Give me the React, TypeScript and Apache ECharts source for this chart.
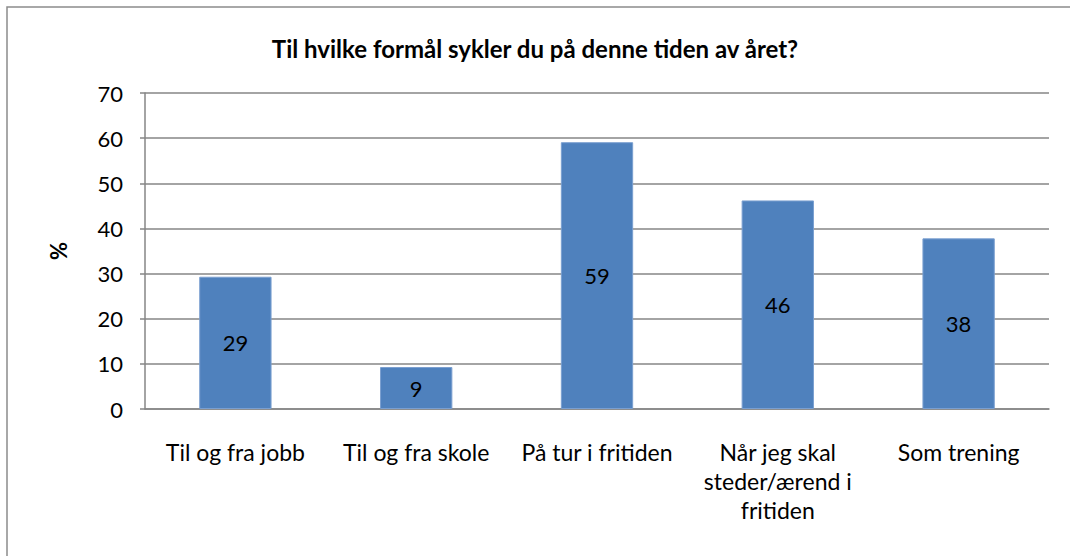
import React, { useEffect, useRef } from "react";
import * as echarts from "echarts";

const categories = [
  "Til og fra jobb",
  "Til og fra skole",
  "På tur i fritiden",
  "Når jeg skal\nsteder/ærend i\nfritiden",
  "Som trening",
];
const values = [29.3, 9.3, 59.1, 46.2, 37.8];
const titleText = "Til hvilke formål sykler du på denne tiden av året?";
const yAxisName = "%";

const FONT = "Lato, 'Open Sans', sans-serif";

export default function App() {
  const ref = useRef<HTMLDivElement>(null);
  useEffect(() => {
    document.body.style.margin = "0";
    const chart = echarts.init(ref.current!, null, { renderer: "svg" });
    chart.setOption({
      animation: false,
      backgroundColor: "#ffffff",
      textStyle: { fontFamily: FONT },
      title: {
        text: titleText,
        left: "center",
        top: 31,
        textStyle: { fontFamily: FONT, fontSize: 24, fontWeight: "bold", color: "#000" },
      },
      graphic: [
        {
          type: "polyline",
          shape: { points: [[7, 600], [7, 7], [1100, 7]] },
          style: { fill: "none", stroke: "#8c8c8c", lineWidth: 1.5 },
          silent: true,
          z: -1,
        },
      ],
      grid: { left: 145, right: 21, top: 93, bottom: 147, containLabel: false },
      xAxis: {
        type: "category",
        data: categories,
        axisLine: { show: true, lineStyle: { color: "#868686", width: 1.5 } },
        axisTick: { show: false },
        axisLabel: {
          color: "#000",
          fontSize: 23,
          fontFamily: FONT,
          margin: 28,
          lineHeight: 29,
          interval: 0,
        },
      },
      yAxis: {
        type: "value",
        min: 0,
        max: 70,
        interval: 10,
        name: yAxisName,
        nameLocation: "middle",
        nameGap: 76,
        nameRotate: 90,
        nameTextStyle: { fontFamily: FONT, fontSize: 22, fontWeight: "bold", color: "#000" },
        axisLine: { show: true, lineStyle: { color: "#868686", width: 1.5 } },
        axisTick: { show: true, length: 5, lineStyle: { color: "#868686", width: 1.5 } },
        axisLabel: { color: "#000", fontSize: 22, fontFamily: FONT, margin: 22 },
        splitLine: { show: true, lineStyle: { color: "#868686", width: 1.5 } },
      },
      series: [
        {
          type: "bar",
          data: values,
          barWidth: "40%",
          itemStyle: { color: "#4F81BD", borderColor: "#7a9fd0", borderWidth: 1 },
          label: {
            show: true,
            position: "inside",
            color: "#000",
            fontSize: 22,
            fontFamily: FONT,
            formatter: (p: any) => String(Math.round(p.value)),
          },
        },
      ],
    });
    return () => chart.dispose();
  }, []);
  return <div ref={ref} style={{ width: 1070, height: 556 }} />;
}
